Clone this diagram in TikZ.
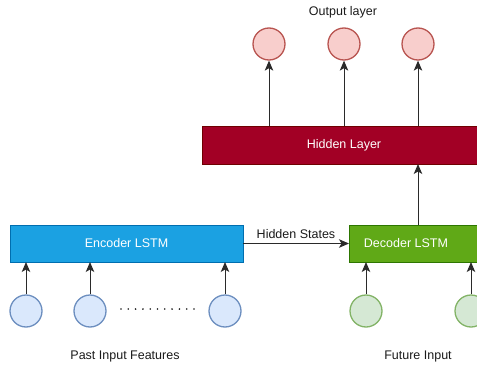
\documentclass[tikz,border=0pt]{standalone}
\usepackage{fontspec}
\setmainfont{Liberation Sans}
\usetikzlibrary{arrows.meta}
\definecolor{encfill}{HTML}{1BA1E2}
\definecolor{encline}{HTML}{006EAF}
\definecolor{decfill}{HTML}{60A917}
\definecolor{decline}{HTML}{2D7600}
\definecolor{hidfill}{HTML}{A20025}
\definecolor{hidline}{HTML}{6F0000}
\definecolor{outfill}{HTML}{F8CECC}
\definecolor{outline}{HTML}{B85450}
\definecolor{pastfill}{HTML}{DAE8FC}
\definecolor{pastline}{HTML}{6C8EBF}
\definecolor{futfill}{HTML}{D5E8D4}
\definecolor{futline}{HTML}{82B366}
\definecolor{txt}{HTML}{1A1A1A}
\definecolor{wire}{HTML}{2A2A2A}
\tikzset{
  layerbox/.style={draw, line width=0.8pt, inner sep=0pt, anchor=north west},
  boxtext/.style={text=white, font=\fontsize{12.5}{14}\selectfont},
  unit/.style={circle, draw, line width=1.3pt, minimum size=32pt, inner sep=0pt},
  outunit/.style={unit, fill=outfill, draw=outline},
  pastunit/.style={unit, fill=pastfill, draw=pastline},
  futunit/.style={unit, fill=futfill, draw=futline},
  label/.style={text=txt, font=\fontsize{12.5}{14}\selectfont},
  flow/.style={draw=wire, line width=1pt, -{Stealth[length=10pt,width=8.5pt,inset=2.5pt]}}
}
\begin{document}
\begin{tikzpicture}[x=1pt, y=-1pt]
\useasboundingbox (0,0) rectangle (477,367);

% layer blocks
\node[layerbox, fill=encfill, draw=encline, minimum width=233pt, minimum height=37pt] (enc) at (10,225) {};
\node[boxtext] (enctext) at (126.5,243.5) {Encoder LSTM};
\node[layerbox, fill=decfill, draw=decline, minimum width=140pt, minimum height=37pt] (dec) at (349,225) {};
\node[boxtext] (dectext) at (406,243.5) {Decoder LSTM};
\node[layerbox, fill=hidfill, draw=hidline, minimum width=290pt, minimum height=38pt] (hid) at (202,126) {};
\node[boxtext] (hidtext) at (344,145) {Hidden Layer};

% output units
\node[outunit] (o1) at (269,44) {};
\node[outunit] (o2) at (344,44) {};
\node[outunit] (o3) at (418,44) {};
\node[label] (outlbl) at (343,12) {Output layer};

% past inputs
\node[pastunit] (p1) at (26,311) {};
\node[pastunit] (p2) at (90,311) {};
\node[pastunit] (p3) at (225,311) {};
\foreach \i in {0,...,10}
  \fill[txt] (121+7.3*\i,309) circle (0.9pt);
\node[label] (pastlbl) at (125,356) {Past Input Features};

% future inputs
\node[futunit] (f1) at (366,311) {};
\node[futunit] (f2) at (471,311) {};
\node[label] (futlbl) at (418,356) {Future Input};

% connectors
\coordinate (ha1) at (269,126);
\coordinate (ha2) at (344,126);
\coordinate (ha3) at (418,126);
\draw[flow] (ha1) -- (o1.south);
\draw[flow] (ha2) -- (o2.south);
\draw[flow] (ha3) -- (o3.south);

\coordinate (dtop) at (418,225);
\coordinate (hbot) at (418,164);
\draw[flow] (dtop) -- (hbot);

\coordinate (eout) at (243,243.5);
\coordinate (din) at (349,243.5);
\draw[flow] (eout) -- node[label, above=1pt] (hs) {Hidden States} (din);

\coordinate (eb1) at (26,262);
\coordinate (eb2) at (90,262);
\coordinate (eb3) at (225,262);
\draw[flow] (p1.north) -- (eb1);
\draw[flow] (p2.north) -- (eb2);
\draw[flow] (p3.north) -- (eb3);

\coordinate (db1) at (366,262);
\coordinate (db2) at (471,262);
\draw[flow] (f1.north) -- (db1);
\draw[flow] (f2.north) -- (db2);
\end{tikzpicture}
\end{document}
